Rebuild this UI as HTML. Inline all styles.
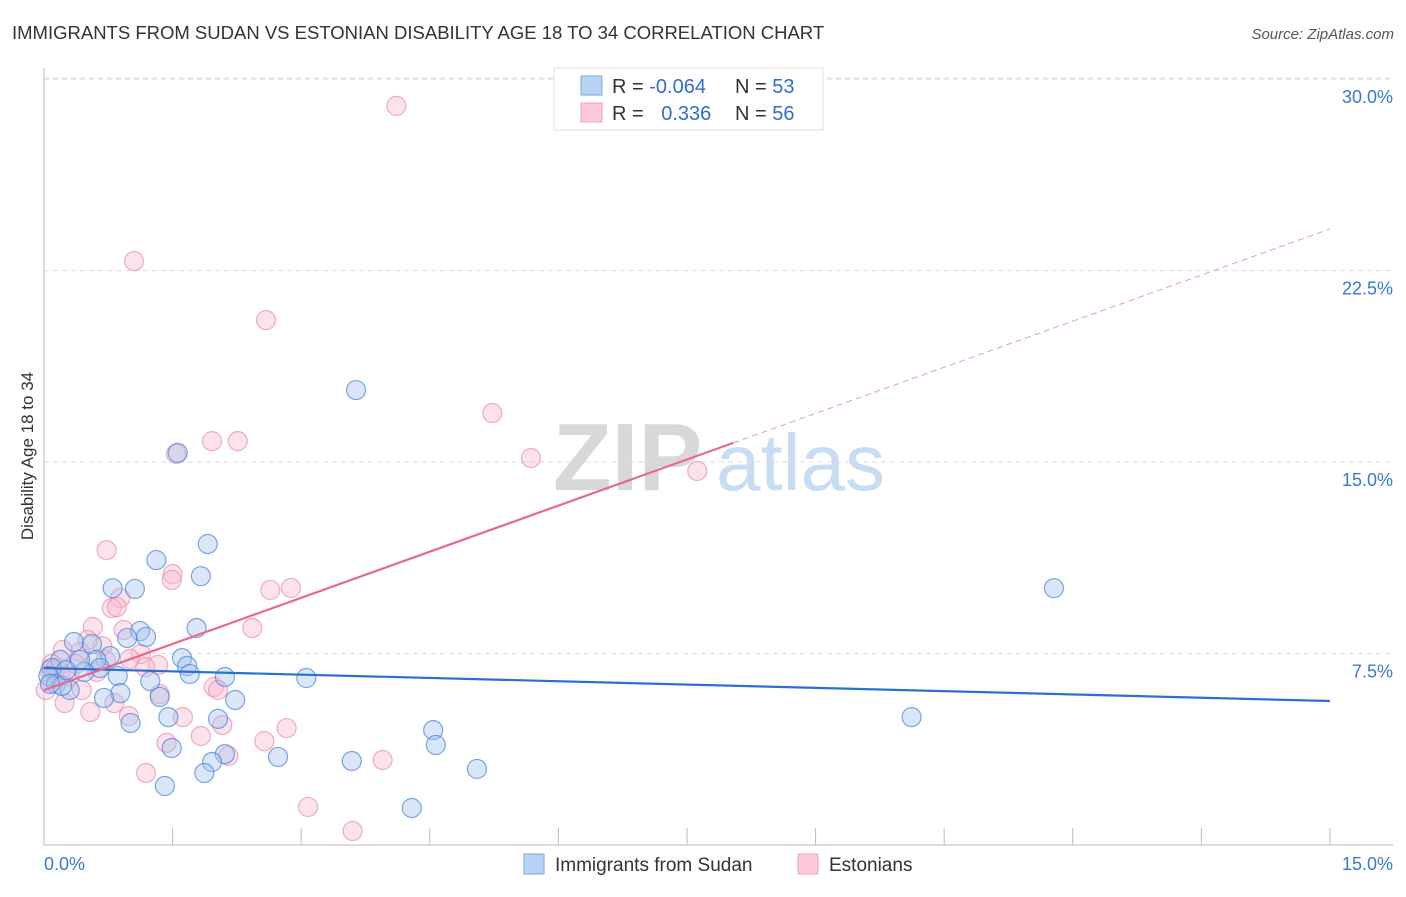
<!DOCTYPE html>
<html><head><meta charset="utf-8"><style>
body{margin:0;background:#fff;font-family:"Liberation Sans",sans-serif;}
svg text{font-family:"Liberation Sans",sans-serif;}
</style></head><body>
<svg id="chart" width="1406" height="892" xmlns="http://www.w3.org/2000/svg">
<text x="12" y="39" font-size="18.5" fill="#333">IMMIGRANTS FROM SUDAN VS ESTONIAN DISABILITY AGE 18 TO 34 CORRELATION CHART</text>
<text x="1394" y="39" font-size="15" fill="#555" text-anchor="end" font-style="italic">Source: ZipAtlas.com</text>
<g>
<text x="553" y="490" font-size="96" fill="#d8d8d8" font-weight="bold">ZIP</text>
<text x="716" y="490" font-size="80" fill="#c8dcf2">atlas</text>
</g>
<g id="grid"></g>
<g id="axes"></g>
<g id="points"></g>
<g id="lines"></g>
<text transform="translate(33,456) rotate(-90)" font-size="17" fill="#333" text-anchor="middle">Disability Age 18 to 34</text>
<g>
<rect x="554" y="68" width="269" height="62" fill="#fff" stroke="#ddd"/>
<rect x="581" y="76" width="21" height="19" fill="#b8d2f4" stroke="#7aaae6"/>
<rect x="581" y="103" width="21" height="19" fill="#fcc8d8" stroke="#f0a0b8"/>
<text x="612" y="93" font-size="20" fill="#333">R = <tspan fill="#2f6fd0">-0.064</tspan></text>
<text x="735" y="93" font-size="20" fill="#333">N = <tspan fill="#2f6fd0">53</tspan></text>
<text x="612" y="120" font-size="20" fill="#333">R = <tspan fill="#2f6fd0" dx="12">0.336</tspan></text>
<text x="735" y="120" font-size="20" fill="#333">N = <tspan fill="#2f6fd0">56</tspan></text>
</g>
<g>
<rect x="524" y="854" width="20" height="20" fill="#b8d2f4" stroke="#7aaae6"/>
<text x="555" y="871" font-size="19" fill="#333">Immigrants from Sudan</text>
<rect x="798" y="854" width="20" height="20" fill="#fcc8d8" stroke="#f0a0b8"/>
<text x="829" y="871" font-size="19" fill="#333">Estonians</text>
</g>
</svg>
<script>
const yTicks=[7.5,15,22.5,30];
const yTickLabels=["7.5%","15.0%","22.5%","30.0%"];
const xTickLabels=["0.0%","15.0%"];
const blueX=[3.64,1.56,1.91,1.31,1.83,0.80,1.06,11.78,1.78,1.12,1.19,0.97,0.35,0.56,0.77,0.19,0.61,1.61,1.67,1.70,2.11,3.06,0.86,0.65,0.09,0.05,0.14,0.30,0.89,0.70,1.24,2.23,1.35,1.45,1.01,2.03,10.12,4.54,2.11,2.73,4.57,1.49,1.96,3.59,5.05,1.87,1.41,4.29,0.21,0.47,0.07,0.26,0.42];
const blueY=[17.82,15.36,11.79,11.16,10.53,10.06,10.03,10.06,8.50,8.38,8.15,8.11,7.95,7.87,7.40,7.25,7.25,7.32,7.01,6.70,6.58,6.54,6.62,6.93,6.93,6.62,6.31,6.07,5.95,5.76,6.42,5.68,5.80,5.01,4.78,4.94,5.01,4.50,3.56,3.45,3.92,3.80,3.25,3.29,2.98,2.82,2.31,1.45,6.23,6.78,6.31,6.85,7.25];
const pinkX=[4.11,1.05,2.59,5.23,1.96,2.26,1.54,5.68,7.62,0.73,1.50,1.49,2.64,2.88,0.89,0.79,0.85,0.57,2.43,0.93,0.22,0.68,0.51,0.42,1.13,1.33,1.18,1.00,0.09,0.19,0.02,0.30,0.44,0.62,1.98,2.03,1.35,0.24,0.82,0.54,0.99,1.62,2.08,2.83,1.43,1.83,2.15,2.57,3.95,1.19,3.08,3.60,0.07,0.14,0.37,0.72];
const pinkY=[28.95,22.87,20.56,16.92,15.82,15.82,15.32,15.16,14.65,11.55,10.61,10.38,9.99,10.07,9.67,9.28,9.32,8.54,8.50,8.42,7.64,7.79,8.03,7.56,7.48,7.05,6.97,7.29,7.09,6.62,6.07,6.62,6.07,6.78,6.19,6.07,5.91,5.56,5.56,5.21,5.05,5.01,4.70,4.58,4.00,4.27,3.49,4.07,3.33,2.82,1.49,0.55,6.85,6.93,7.09,7.25];
const blueTrend=[6.93,5.64];
const pinkTrend=[6.07,24.13];
const pinkSolidEnd=8.04;
const NS="http://www.w3.org/2000/svg";
const sx=v=>44+v*85.73, sy=v=>845-v*25.53;
function mk(tag,attrs,parent){const e=document.createElementNS(NS,tag);for(const k in attrs)e.setAttribute(k,attrs[k]);document.getElementById(parent).appendChild(e);return e;}
yTicks.forEach((t,i)=>{
 const g=mk('line',{x1:44,x2:1393,y1:sy(t),y2:sy(t),stroke:'#ddd','stroke-dasharray':'5,4'},'grid');
 
 
 const l=mk('text',{x:1393,y:sy(t)+24,'font-size':18,fill:'#3a78d4','text-anchor':'end'},'grid');
 l.textContent=yTickLabels[i];
 
 
});
const topLine=mk('line',{x1:44,x2:1393,y1:78,y2:78,stroke:'#ddd','stroke-dasharray':'5,4'},'grid');


const ya=mk('line',{x1:44,x2:44,y1:68,y2:845,stroke:'#bbb'},'axes');


const xa=mk('line',{x1:44,x2:1393,y1:845,y2:845,stroke:'#bbb'},'axes');


for(let i=1;i<=10;i++){
 const t=mk('line',{x1:sx(i*1.5),x2:sx(i*1.5),y1:828,y2:845,stroke:'#bbb'},'axes');
 
 
}
[[0,'start'],[15,'end']].forEach((p,i)=>{
 const l=mk('text',{x:i?1393:44,y:870,'font-size':18,fill:'#3a78d4','text-anchor':p[1]},'axes');
 l.textContent=xTickLabels[i];
 
 
});
function pts(X,Y,fill,stroke,name){X.forEach((x,i)=>{
 const c=mk('circle',{cx:sx(x),cy:sy(Y[i]),r:9.5,fill:fill,stroke:stroke,'stroke-width':1.2},'points');
 
 
});}
pts(pinkX,pinkY,'rgba(248,185,205,0.4)','rgba(235,140,170,0.7)','estonians-point');
pts(blueX,blueY,'rgba(160,196,240,0.4)','rgba(70,130,220,0.7)','sudan-point');
const bl=mk('line',{x1:sx(0),y1:sy(blueTrend[0]),x2:sx(15),y2:sy(blueTrend[1]),stroke:'#2a6fd6','stroke-width':2.2},'lines');


const pAt=x=>pinkTrend[0]+(pinkTrend[1]-pinkTrend[0])*x/15;
const pl=mk('line',{x1:sx(0),y1:sy(pAt(0)),x2:sx(pinkSolidEnd),y2:sy(pAt(pinkSolidEnd)),stroke:'#e86890','stroke-width':2.2},'lines');


const pd=mk('line',{x1:sx(pinkSolidEnd),y1:sy(pAt(pinkSolidEnd)),x2:sx(15),y2:sy(pAt(15)),stroke:'#eaa0b8','stroke-width':1,'stroke-dasharray':'6,4'},'lines');


</script>
</body></html>
